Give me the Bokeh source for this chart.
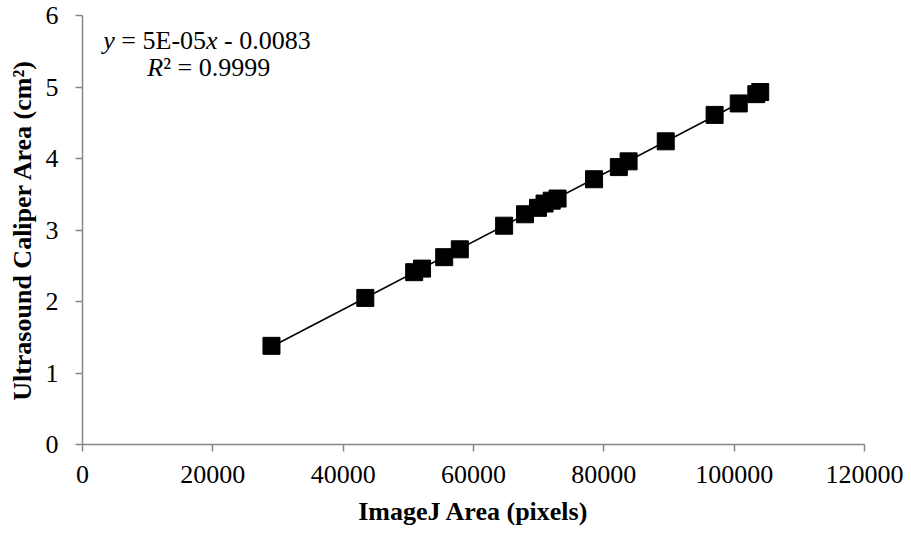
from bokeh.plotting import figure
from bokeh.models import Range1d, SingleIntervalTicker, BasicTickFormatter
from bokeh.core.properties import value
from bokeh.embed import file_html
from bokeh.resources import INLINE
import numpy as np

# Data
imagej_area = [29000, 43400, 50900, 52100, 55500, 57900, 64700, 67900, 69900, 70900,
                72000, 72900, 78500, 82300, 83800, 89500, 97000, 100700, 103400, 104000]
caliper_area = [1.38, 2.05, 2.41, 2.46, 2.62, 2.73, 3.06, 3.22, 3.31, 3.37,
                3.41, 3.44, 3.71, 3.88, 3.96, 4.24, 4.61, 4.77, 4.90, 4.93]
x_title = "ImageJ Area (pixels)"
y_title = "Ultrasound Caliper Area (cm²)"
eq_line1 = ["y", "= 5E-05", "x", "- 0.0083"]
eq_line2 = ["R", "² = 0.9999"]

FONT = "Liberation Serif"
GRAY = "#868686"

p = figure(width=911, height=534, x_range=Range1d(0, 120000), y_range=Range1d(0, 6),
           output_backend="svg", toolbar_location=None,
           min_border_left=82, min_border_right=47, min_border_top=15, min_border_bottom=90)
p.outline_line_color = None
p.xgrid.visible = False
p.ygrid.visible = False
p.background_fill_color = "white"
p.border_fill_color = "white"

for ax in (p.xaxis[0], p.yaxis[0]):
    ax.axis_line_color = GRAY
    ax.axis_line_width = 1.5
    ax.major_tick_line_color = GRAY
    ax.major_tick_line_width = 1.5
    ax.major_tick_in = 0
    ax.major_tick_out = 7
    ax.minor_tick_line_color = None
    ax.major_label_text_font = FONT
    ax.major_label_text_font_size = "26px"
    ax.major_label_text_font_style = "normal"
    ax.major_label_text_color = "black"
    ax.axis_label_text_font = FONT
    ax.axis_label_text_font_size = "26px"
    ax.axis_label_text_font_style = "bold"
    ax.axis_label_text_color = "black"

p.xaxis[0].ticker = SingleIntervalTicker(interval=20000)
p.xaxis[0].formatter = BasicTickFormatter(use_scientific=False)
p.xaxis[0].major_label_standoff = 14
p.xaxis[0].axis_label = x_title
p.xaxis[0].axis_label_standoff = 11

p.yaxis[0].ticker = SingleIntervalTicker(interval=1)
p.yaxis[0].major_label_standoff = 17
p.yaxis[0].axis_label = y_title
p.yaxis[0].axis_label_standoff = 6

# Linear trendline fitted to the data
coef = np.polyfit(imagej_area, caliper_area, 1)
tx = [min(imagej_area), max(imagej_area)]
ty = [coef[0] * v + coef[1] for v in tx]
p.line(tx, ty, line_color="black", line_width=1.6)

p.scatter(imagej_area, caliper_area, marker="square", size=17,
          fill_color="black", line_color="black")

# Equation annotation
ax0, y1, y2 = 3200, 5.645, 5.27
offs1 = [0, 18, 102.7, 120.7]
styles1 = ["italic", "normal", "italic", "normal"]
for t, o, s in zip(eq_line1, offs1, styles1):
    p.text(x=[ax0], y=[y1], text=[t], x_offset=o, text_font=value(FONT),
           text_font_size="26px", text_font_style=s, text_color="black",
           text_align="left", text_baseline="middle")
offs2 = [44, 59.9]
styles2 = ["italic", "normal"]
for t, o, s in zip(eq_line2, offs2, styles2):
    p.text(x=[ax0], y=[y2], text=[t], x_offset=o, text_font=value(FONT),
           text_font_size="26px", text_font_style=s, text_color="black",
           text_align="left", text_baseline="middle")

open("out.html", "w").write(file_html(p, INLINE))
